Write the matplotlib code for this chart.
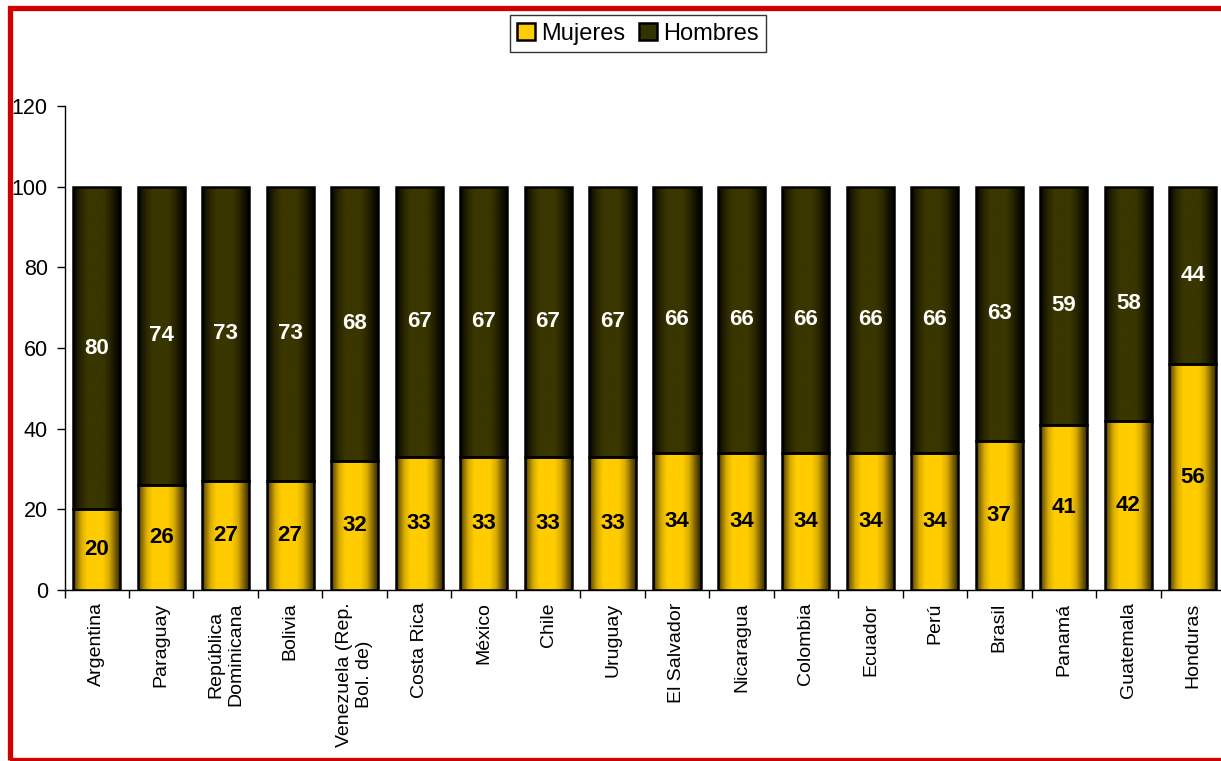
import numpy as np
import matplotlib
matplotlib.use("Agg")
import matplotlib.pyplot as plt
from matplotlib.colors import LinearSegmentedColormap
from matplotlib.patches import Rectangle, Patch

plt.rcParams["font.family"] = ["Liberation Sans", "DejaVu Sans"]

countries = ["Argentina", "Paraguay", "República\nDominicana", "Bolivia",
             "Venezuela (Rep.\nBol. de)", "Costa Rica", "México", "Chile",
             "Uruguay", "El Salvador", "Nicaragua", "Colombia", "Ecuador",
             "Perú", "Brasil", "Panamá", "Guatemala", "Honduras"]
mujeres = [20, 26, 27, 27, 32, 33, 33, 33, 33, 34, 34, 34, 34, 34, 37, 41, 42, 56]
hombres = [80, 74, 73, 73, 68, 67, 67, 67, 67, 66, 66, 66, 66, 66, 63, 59, 58, 44]

W, H = 1221, 761
fig = plt.figure(figsize=(W / 100, H / 100), dpi=100)
ax = fig.add_axes([64.5 / W, (H - 590) / H, (1225 - 64.5) / W, 484 / H])

x = np.arange(len(countries))
width = 0.73

cm_muj = LinearSegmentedColormap.from_list("muj", ["#2b2100", "#7a5f00", "#d9ad00", "#ffcc00"])
cm_hom = LinearSegmentedColormap.from_list("hom", ["#000000", "#121100", "#2a2700", "#3a3600"])

# horizontal shading: dark at the sides, bright plateau a bit left of centre
u = np.linspace(0, 1, 100)
prof = np.interp(u, [0, 0.06, 0.3, 0.62, 0.9, 1], [0, 0.35, 1, 1, 0.3, 0])
grad = prof.reshape(1, -1)

b1 = ax.bar(x, mujeres, width, color="#ffcc00", linewidth=0, zorder=2)
b2 = ax.bar(x, hombres, width, bottom=mujeres, color="#333300", linewidth=0, zorder=2)

for bars, cmap in ((b1, cm_muj), (b2, cm_hom)):
    for p in bars:
        x0, y0 = p.get_x(), p.get_y()
        im = ax.imshow(grad, extent=[x0, x0 + p.get_width(), y0, y0 + p.get_height()],
                       aspect="auto", cmap=cmap, vmin=0, vmax=1, zorder=2.5,
                       interpolation="bilinear")
        im.set_clip_path(p)

ax.bar(x, mujeres, width, fill=False, edgecolor="black", linewidth=1.8, zorder=3)
ax.bar(x, hombres, width, bottom=mujeres, fill=False, edgecolor="black",
       linewidth=1.8, zorder=3)

for xi, m, h in zip(x, mujeres, hombres):
    ax.text(xi, m / 2, str(m), ha="center", va="center", fontsize=16,
            fontweight="bold", color="black", zorder=4)
    ax.text(xi, m + h / 2, str(h), ha="center", va="center", fontsize=16,
            fontweight="bold", color="white", zorder=4)

ax.set_xlim(-0.5, len(countries) - 0.5)
ax.set_ylim(0, 120)
ax.set_yticks(range(0, 121, 20))
ax.tick_params(axis="y", labelsize=15.5, length=6, width=1, pad=6)

ax.set_xticks(x)
ax.set_xticklabels(countries, rotation=90, fontsize=14, va="top", ha="center",
                   multialignment="center", linespacing=1.25)
ax.set_xticks(np.arange(-0.5, len(countries), 1), minor=True)
ax.tick_params(axis="x", which="major", length=0, pad=9)
ax.tick_params(axis="x", which="minor", length=6, width=1)

for s in ("top", "right"):
    ax.spines[s].set_visible(False)
for s in ("left", "bottom"):
    ax.spines[s].set_linewidth(1)

handles = [Patch(facecolor="#ffcc00", edgecolor="black", linewidth=1.8, label="Mujeres"),
           Patch(facecolor="#333300", edgecolor="black", linewidth=1.8, label="Hombres")]
leg = fig.legend(handles=handles, loc="upper center", bbox_to_anchor=(638 / W, (H - 15) / H),
                 ncol=2, fontsize=17, frameon=True, fancybox=False, edgecolor="black",
                 handlelength=0.75, handleheight=0.75, handletextpad=0.25,
                 columnspacing=0.6, borderpad=0.32, borderaxespad=0)
leg.get_frame().set_linewidth(1)

# red border around the figure (right edge falls outside the image)
fig.patches.append(Rectangle((9.5 / W, 1.5 / H), 1.2, (H - 9) / H,
                             transform=fig.transFigure, fill=False,
                             edgecolor="#d00000", linewidth=3.8, zorder=10))

fig.savefig("out.png", dpi=100)
